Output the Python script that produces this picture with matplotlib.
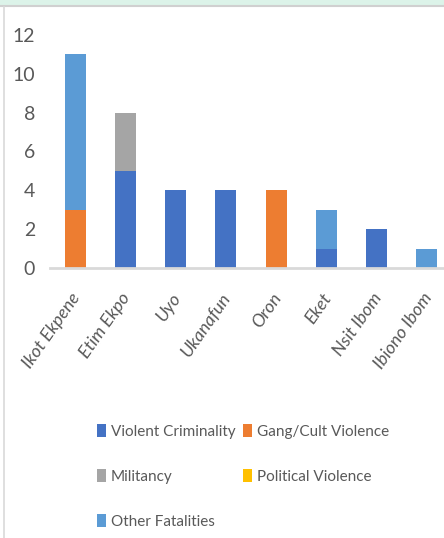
import matplotlib
matplotlib.use("Agg")
import matplotlib.pyplot as plt
from matplotlib.patches import Rectangle, Patch
from matplotlib.lines import Line2D
from matplotlib.transforms import ScaledTranslation
import numpy as np

plt.rcParams['font.family'] = ['Lato', 'DejaVu Sans']

categories = ["Ikot Ekpene", "Etim Ekpo", "Uyo", "Ukanafun", "Oron", "Eket", "Nsit Ibom", "Ibiono Ibom"]
series_names = ["Violent Criminality", "Gang/Cult Violence", "Militancy", "Political Violence", "Other Fatalities"]
violent = [0, 5, 4, 4, 0, 1, 2, 0]
gang = [3, 0, 0, 0, 4, 0, 0, 0]
militancy = [0, 3, 0, 0, 0, 0, 0, 0]
political = [0, 0, 0, 0, 0, 0, 0, 0]
other = [8, 0, 0, 0, 0, 2, 0, 1]
colors = ["#4472C4", "#ED7D31", "#A5A5A5", "#FFC000", "#5B9BD5"]
yticks = [0, 2, 4, 6, 8, 10, 12]

W, H = 444, 538
fig = plt.figure(figsize=(W / 100, H / 100), dpi=100)

# decorations: top strip, border lines
fig.patches.append(Rectangle((0, 1 - 5 / H), 1, 5 / H, transform=fig.transFigure,
                             facecolor="#dcf3e9", edgecolor="none"))
fig.lines.append(Line2D([0, 1], [1 - 6 / H, 1 - 6 / H], transform=fig.transFigure,
                        color="#d0d0d0", lw=1.5))
fig.lines.append(Line2D([3.5 / W, 3.5 / W], [0, 1 - 7 / H], transform=fig.transFigure,
                        color="#d9d9d9", lw=1.2))

ax = fig.add_axes([50.2 / W, (H - 268) / H, 8 * 50.2 / W, 233 / H])
x = np.arange(len(categories))
bottom = np.zeros(len(categories))
for name, vals, c in zip(series_names, [violent, gang, militancy, political, other], colors):
    ax.bar(x, vals, width=0.42, bottom=bottom, color=c, label=name, zorder=2)
    bottom += np.array(vals)

ax.set_xlim(-0.5, 7.5)
ax.set_ylim(0, 12)
ax.set_yticks(yticks)
ax.set_yticklabels([str(v) for v in yticks], fontsize=14, color="#595959")
ax.tick_params(axis='y', length=0, pad=11)
ax.set_xticks(x)
ax.set_xticklabels(categories, rotation=55, ha='right', va='top', rotation_mode='anchor',
                   fontsize=13, color="#595959", style='italic')
ax.tick_params(axis='x', length=0, pad=16)
off = ScaledTranslation(-5 / 100, 0, fig.dpi_scale_trans)
for lbl in ax.get_xticklabels():
    lbl.set_transform(lbl.get_transform() + off)
for s in ['top', 'right', 'left']:
    ax.spines[s].set_visible(False)
ax.spines['bottom'].set_color("#d9d9d9")
ax.spines['bottom'].set_linewidth(2)
ax.set_facecolor('none')

handles = [Patch(facecolor=c, edgecolor='none') for c in colors]
order = [0, 2, 4, 1, 3]
fig.legend([handles[i] for i in order], [series_names[i] for i in order],
           loc='upper left', bbox_to_anchor=(97 / W, 1 - 424 / H), ncol=2,
           frameon=False, fontsize=11, handlelength=0.59, handleheight=0.9,
           handletextpad=0.33, columnspacing=0.45, labelspacing=2.0,
           borderpad=0, borderaxespad=0, labelcolor="#595959")

fig.savefig("out.png", dpi=100)
